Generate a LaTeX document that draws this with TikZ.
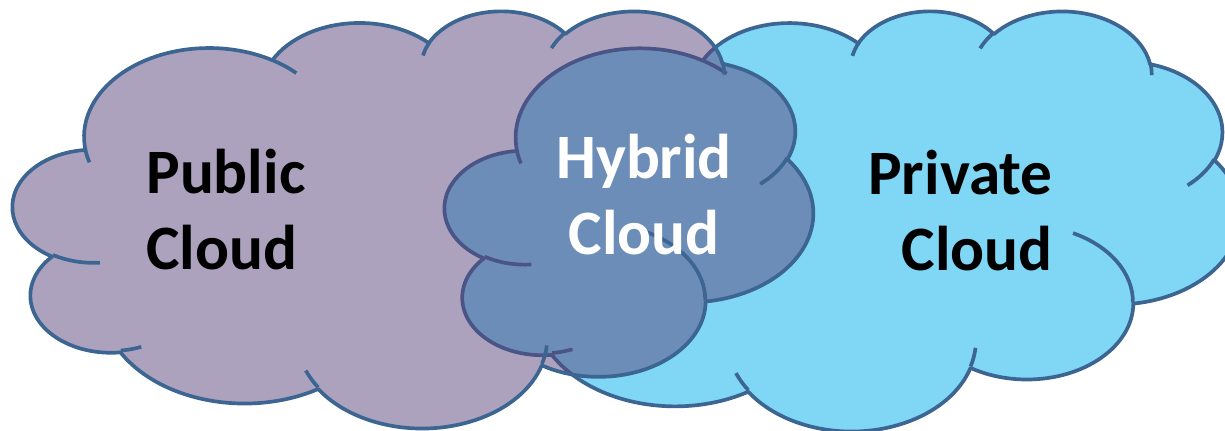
\documentclass[tikz,border=0pt]{standalone}
\usepackage{fontspec}
\setmainfont{Carlito}

\definecolor{cloudedge}{RGB}{60,101,146}
\definecolor{privatefill}{RGB}{127,215,245}
\definecolor{publicfill}{RGB}{91,69,123}

\tikzset{
  cloudline/.style={draw=cloudedge, line width=2.1pt, line join=round},
  privatebody/.style={cloudline, fill=privatefill},
  publicbody/.style={cloudline, fill=publicfill, fill opacity=0.5},
  cloudtext/.style={font=\bfseries\fontsize{36}{43.6}\selectfont, inner sep=0pt}
}

% one lobe of the cloud outline, angles as seen on the ellipse
\newcommand\carc[4]{arc[x radius=#1, y radius=#2, start angle={vang(#1,#2,#3)}, delta angle={vdel(#1,#2,#3,#4)}]}

\def\cloudshape[#1](#2,#3)(#4,#5){%
  \begin{scope}[shift={(#2,#3)}, xscale=#4/43.2, yscale=#5/43.2]
    \path[#1] (3.900,14.370)
      \carc{6.753}{9.190}{-190.4875}{123.7805}
      \carc{5.333}{7.267}{-144.1024}{89.9452}
      \carc{4.365}{5.945}{-145.8079}{99.7230}
      \carc{4.857}{6.595}{-130.9861}{117.2417}
      \carc{5.333}{7.273}{-78.7089}{109.0269}
      \carc{6.775}{9.220}{-46.2673}{130.2690}
      \carc{5.785}{7.867}{0.6250}{114.0333}
      \carc{6.752}{9.215}{22.4516}{115.1726}
      \carc{7.720}{10.543}{66.2426}{75.7110}
      \carc{4.360}{5.918}{-274.9421}{146.7356}
      \carc{4.345}{5.945}{-246.8285}{152.5189}
      -- cycle;
    \draw[cloudline]
      (4.693,26.177) \carc{4.345}{5.945}{86.7420}{26.4295}
      (6.928,34.899) \carc{4.360}{5.918}{73.6105}{11.4475}
      (16.478,39.090) \carc{6.752}{9.215}{137.6242}{14.0811}
      (28.827,34.751) \carc{6.752}{9.215}{6.4533}{15.9984}
      (34.129,22.954) \carc{5.785}{7.867}{-70.2924}{70.9174}
      (41.798,15.354) \carc{5.333}{7.273}{30.3180}{27.7515}
      (38.324,5.426) \carc{4.857}{6.595}{-13.7443}{14.8589}
      (29.078,3.952) \carc{4.857}{6.595}{-149.1815}{18.1954}
      (22.141,4.720) \carc{4.365}{5.945}{-163.4943}{17.6864}
      (14.000,5.192) \carc{6.753}{9.190}{-66.7070}{12.3194}
      (4.127,15.789) \carc{6.753}{9.190}{157.6544}{11.8582};
  \end{scope}}

\begin{document}
\begin{tikzpicture}[x=0.02cm, y=-0.02cm,
  declare function={
    vang(\rx,\ry,\sa)=atan2(\rx*sin(\sa),\ry*cos(\sa));
    vdif(\rx,\ry,\sa,\sw)=vang(\rx,\ry,\sa+\sw)-vang(\rx,\ry,\sa);
    vdel(\rx,\ry,\sa,\sw)=vdif(\rx,\ry,\sa,\sw)-360*round((vdif(\rx,\ry,\sa,\sw)-\sw)/360);
  }]
	%%%%% START %%%%%
	\useasboundingbox (0,0) rectangle (1225,431);
	\clip (0,0) rectangle (1225,431);
	
	\cloudshape[privatebody](445,10)(795,420)
	\cloudshape[publicbody](13,10)(800,417)
	
	% base anchor sits on the last line
	\node[cloudtext, align=left, anchor=base west] (public) at (146,270) {Public\\Cloud};
	\node[cloudtext, align=center, anchor=base, text=white] (hybrid) at (644,255) {Hybrid\\Cloud};
	\node[cloudtext, align=right, anchor=base east] (private) at (1053,271) {Private\\Cloud};
	%%%%% END %%%%%
\end{tikzpicture}
\end{document}
